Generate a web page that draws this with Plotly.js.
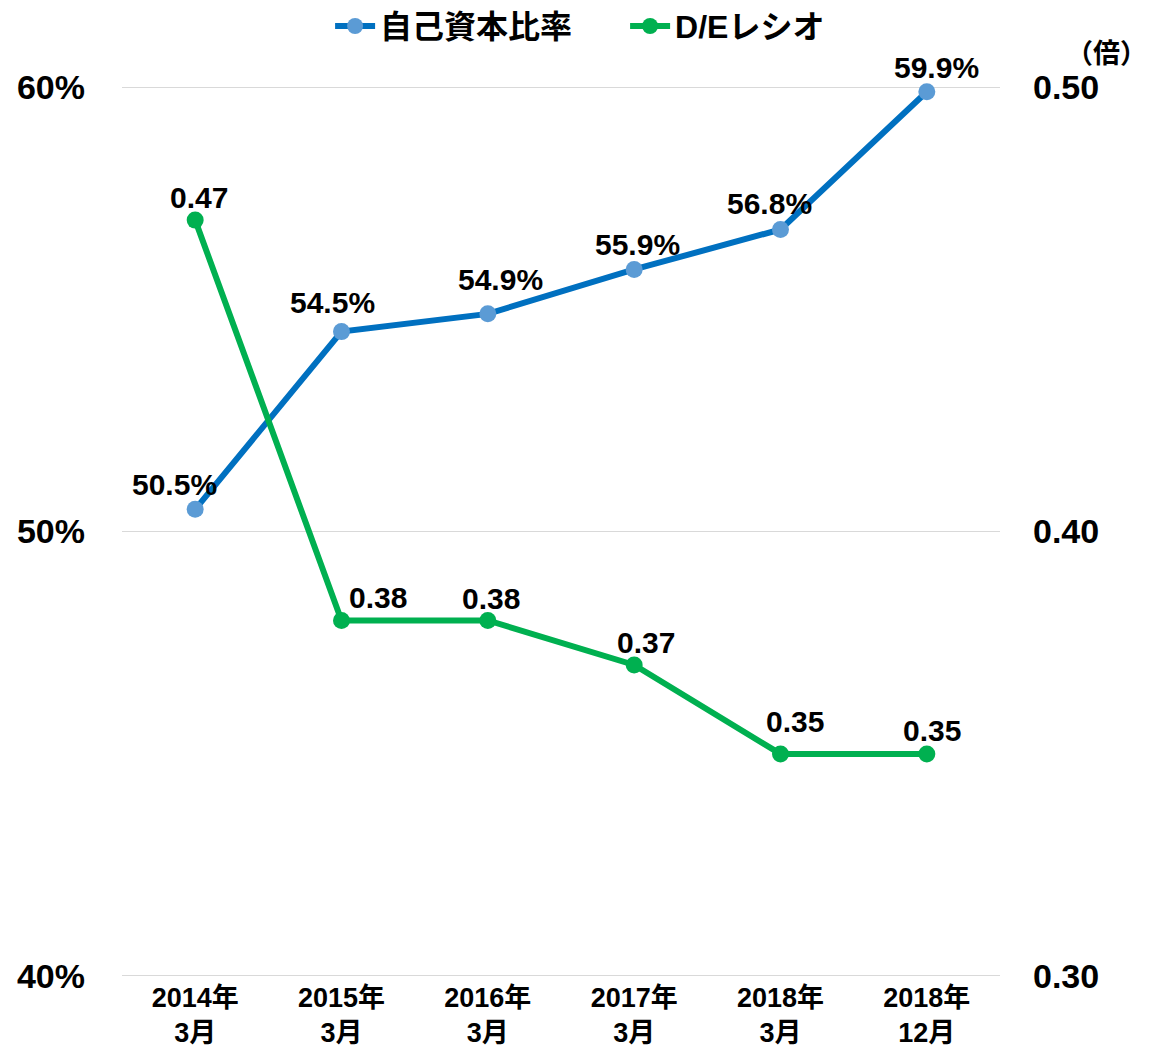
<!DOCTYPE html>
<html><head><meta charset="utf-8">
<script src="https://cdn.plot.ly/plotly-3.0.1.min.js"></script>
<style>html,body{margin:0;padding:0;background:#fff}</style>
</head><body>
<div id="chart" style="width:1149px;height:1047px"></div>
<script>
const categories = ["2014年<br>3月","2015年<br>3月","2016年<br>3月","2017年<br>3月","2018年<br>3月","2018年<br>12月"];
const equityRatio = [50.5, 54.5, 54.9, 55.9, 56.8, 59.9];
const deRatio = [0.47, 0.38, 0.38, 0.37, 0.35, 0.35];
const equityLabels = ["50.5%","54.5%","54.9%","55.9%","56.8%","59.9%"];
const deLabels = ["0.47","0.38","0.38","0.37","0.35","0.35"];

// label offsets (px) for styling only
const eqShift = [[-21,25],[-9,29],[13,34],[3,25],[-11,26],[10,24]];
const deShift = [[4,23],[36,23],[3,22],[12,22],[14,32],[5,23]];

const FONT = "Liberation Sans, Arial, Noto Sans CJK JP, sans-serif";
const BLUE = "#0070C0", BLUE_M = "#5B9BD5", GREEN = "#00B050";

const traces = [
  {x: categories, y: equityRatio, name: "自己資本比率", type: "scatter", mode: "lines+markers",
   line: {color: BLUE, width: 6}, marker: {color: BLUE_M, size: 17}, yaxis: "y", cliponaxis: false},
  {x: categories, y: deRatio, name: "D/Eレシオ", type: "scatter", mode: "lines+markers",
   line: {color: GREEN, width: 6}, marker: {color: GREEN, size: 17}, yaxis: "y2", cliponaxis: false}
];

const annotations = [];
categories.forEach((c, i) => {
  annotations.push({x: c, y: equityRatio[i], xref: "x", yref: "y", text: "<b>" + equityLabels[i] + "</b>",
    showarrow: false, xshift: eqShift[i][0], yshift: eqShift[i][1], font: {family: FONT, size: 30, color: "#000"}});
  annotations.push({x: c, y: deRatio[i], xref: "x", yref: "y2", text: "<b>" + deLabels[i] + "</b>",
    showarrow: false, xshift: deShift[i][0], yshift: deShift[i][1], font: {family: FONT, size: 30, color: "#000"}});
});
annotations.push({x: 1.17, y: 1.036, xref: "paper", yref: "paper", xanchor: "right", yanchor: "middle",
  text: "<b>（倍）</b>", showarrow: false, font: {family: FONT, size: 27, color: "#000"}});

const layout = {
  width: 1149, height: 1047,
  margin: {l: 122, r: 149, t: 86, b: 70},
  paper_bgcolor: "#fff", plot_bgcolor: "#fff",
  font: {family: FONT, color: "#000"},
  showlegend: true,
  legend: {orientation: "h", x: 0.573, xanchor: "center", xref: "paper", y: 0.975, yref: "container", yanchor: "middle",
    font: {family: FONT, size: 32, color: "#000", weight: "bold"}, itemwidth: 40,
    entrywidth: 240, entrywidthmode: "pixels"},
  xaxis: {type: "category", range: [-0.5, 5.5], showgrid: false, zeroline: false, showline: false,
    ticks: "", tickfont: {family: FONT, size: 27, color: "#000", weight: "bold"}, ticklabelstandoff: 2, fixedrange: true},
  yaxis: {range: [39.97, 60.03], dtick: 10, tick0: 40, ticksuffix: "%", showgrid: true, gridcolor: "#D9D9D9", gridwidth: 1.5,
    zeroline: false, showline: false, ticks: "", ticklabelstandoff: 36,
    tickfont: {family: FONT, size: 34, color: "#000", weight: "bold"}},
  yaxis2: {range: [0.29985, 0.50015], dtick: 0.1, tick0: 0.3, tickformat: ".2f", overlaying: "y", side: "right",
    showgrid: false, zeroline: false, showline: false, ticks: "", ticklabelstandoff: 32,
    tickfont: {family: FONT, size: 34, color: "#000", weight: "bold"}},
  annotations: annotations
};

Plotly.newPlot("chart", traces, layout, {displayModeBar: false, staticPlot: true});
</script>
</body></html>
